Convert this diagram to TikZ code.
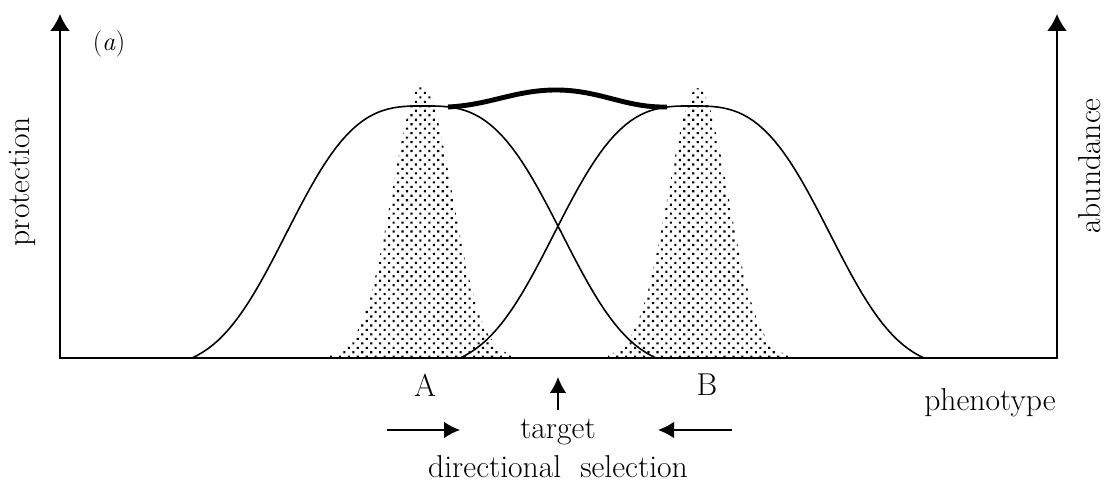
\documentclass[tikz,border=0pt]{standalone}
\usepackage{fontspec}
\usetikzlibrary{arrows.meta,patterns.meta}
\tikzset{
  lbl/.style={font=\fontsize{18}{21}\selectfont, inner sep=0pt},
  bell/.style={line width=0.9pt},
  stipple/.style={pattern={Dots[distance=3.6pt,radius=0.85pt,angle=45]}},
  smalltip/.style={line width=0.8pt, -{Latex[length=3.2mm,width=3.3mm]}},
}
\begin{document}
\begin{tikzpicture}[x=0.02cm,y=0.02cm]
\useasboundingbox (-60,-124) rectangle (1045,358);
% abundance of the two morphs
\fill[stipple] (270,0) -- plot[domain=-92:92,samples=61] ({362+\x},{273*exp(-0.5*(\x/30)*(\x/30))}) -- (454,0) -- cycle;
\fill[stipple] (548,0) -- plot[domain=-90:90,samples=61] ({638+\x},{270*exp(-0.5*(\x/30)*(\x/30))}) -- (728,0) -- cycle;
% protection curves
\draw[bell] plot[domain=-232:232,samples=91] ({364+\x},{263.1*(exp(-1*pow(abs(\x)/158,3))-0.0422)});
\draw[bell] plot[domain=-232:232,samples=91] ({632+\x},{263.1*(exp(-1*pow(abs(\x)/158,3))-0.0422)});
\draw[line width=2.8pt] (388,251) .. controls (430,253) and (455,268) .. (496,268)
  .. controls (540,268) and (565,250) .. (607,251);
% axes
\coordinate (o) at (0,0);
\coordinate (ytop) at (0,344);
\coordinate (xend) at (997,0);
\coordinate (ztop) at (997,344);
\draw[line width=1.3pt, {Latex[length=3.4mm,width=4mm]}-{Latex[length=3.4mm,width=4mm]}] (ytop) -- (o) -- (xend) -- (ztop);
% labels
\node[lbl, font=\fontsize{15}{18}\selectfont] (panel) at (49,314) {(\textit{a})};
\node[lbl, rotate=90] (prot) at (-38,176) {protection};
\node[lbl, rotate=90] (abund) at (1030,192) {abundance};
\node[lbl] (A) at (365,-27) {A};
\node[lbl] (B) at (647,-27) {B};
\node[lbl] (pheno) at (930,-45) {phenotype};
\node[lbl] (target) at (498,-74) {target};
\node[lbl] (dirsel) at (498,-109) {directional\hskip0.6em selection};
% arrows
\coordinate (tgtfoot) at (498,-52);
\coordinate (tgtpt) at (498,-19);
\coordinate (ra0) at (327,-72);
\coordinate (ra1) at (400,-72);
\coordinate (la0) at (672,-72);
\coordinate (la1) at (598,-72);
\draw[smalltip] (tgtfoot) -- (tgtpt);
\draw[smalltip] (ra0) -- (ra1);
\draw[smalltip] (la0) -- (la1);
\end{tikzpicture}
\end{document}
